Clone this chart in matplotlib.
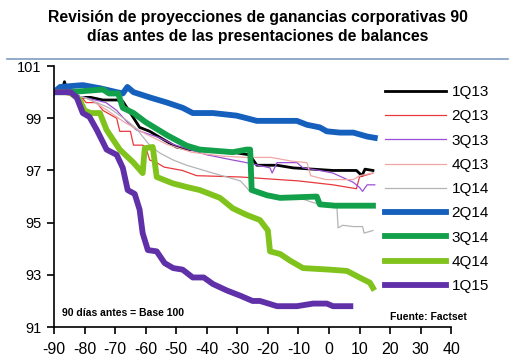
import matplotlib
matplotlib.use('Agg')
import matplotlib.pyplot as plt
from matplotlib.lines import Line2D

plt.rcParams['font.family'] = ['Liberation Sans', 'DejaVu Sans']
plt.rcParams['axes.unicode_minus'] = False

# series: days relative to presentation, index (90 days before = 100)
x_1q13 = [-90, -87.5, -86.6, -85.5, -84, -81.6, -78, -74, -69.5, -67.5, -65, -62, -58.7, -54.4, -50, -45.6,
          -38, -31.5, -29, -26, -23.6, -17, -11.8, 1.3, 5, 9, 10.8, 11.8, 14.4]
y_1q13 = [100, 100, 100.4, 100, 100, 99.8, 99.8, 99.7, 99.7, 99.65, 99.2, 98.65, 98.5, 98.2, 97.9, 97.8,
          97.75, 97.7, 97.65, 97.6, 97.2, 97.2, 97.1, 97.0, 97.0, 97.0, 96.8, 97.05, 97.0]

x_2q13 = [-90, -81, -79.5, -76, -74, -69.5, -68.5, -65, -64, -61, -60, -58.7, -56.4, -54, -48, -43.3,
          -29, -10, 1.3, 9, 10, 14.4]
y_2q13 = [100, 99.8, 99.6, 99.6, 99.3, 99.0, 98.5, 98.5, 97.97, 97.97, 97.9, 97.4, 97.3, 97.13, 97.0, 96.8,
          96.75, 96.6, 96.45, 96.3, 96.75, 96.9]

x_3q13 = [-90, -80, -73, -69.5, -66, -63, -55.4, -51, -45.6, -40, -31.5, -27, -19.3, -18.6, -17, -10.5,
          -8.5, -3, 1.3, 7.9, 10, 11, 12.5, 15]
y_3q13 = [100, 99.8, 99.6, 99.3, 98.85, 98.55, 98.25, 98.0, 97.8, 97.6, 97.4, 97.3, 97.1, 96.9, 97.3, 97.3,
          97.1, 97.0, 96.9, 96.55, 96.35, 96.2, 96.45, 96.45]

x_4q13 = [-90, -82, -78, -72.5, -67, -60, -53, -45, -35, -27, -19, -11.8, -7.2, -6, -1, 8, 10, 14.4]
y_4q13 = [100, 99.85, 99.7, 99.3, 98.85, 98.4, 98.0, 97.7, 97.55, 97.5, 97.5, 97.35, 97.3, 96.8, 96.65,
          96.65, 96.8, 96.9]

x_1q14 = [-90, -80, -72, -66, -63, -61, -58.7, -55.4, -51, -46.6, -38, -29, -27, -26, -20.3, -10.5, -6,
          0.3, 2.6, 3, 4.5, 8, 11, 11.5, 14.4]
y_1q14 = [100, 99.8, 99.4, 98.9, 98.6, 98.3, 97.97, 97.67, 97.4, 97.2, 96.9, 96.6, 96.35, 96.2, 96.0,
          95.98, 95.8, 95.6, 95.6, 94.8, 94.9, 94.85, 94.85, 94.6, 94.7]

x_2q14 = [-90, -88, -80.6, -75, -69.5, -67.5, -66, -64, -58.7, -53, -47.9, -44.6, -38, -30.2, -23.6,
          -10.5, -7.2, -3, -0.7, 3.6, 8, 12.5, 15]
y_2q14 = [100, 100.2, 100.27, 100.15, 100.0, 99.95, 100.2, 100.0, 99.8, 99.6, 99.4, 99.2, 99.2, 99.1, 98.9,
          98.9, 98.75, 98.65, 98.5, 98.45, 98.45, 98.3, 98.25]

x_3q14 = [-90, -85, -74, -72, -69, -67.5, -64, -60, -53, -46.6, -42.3, -31.5, -27, -25.8, -25.3, -20.3,
          -16, -4, -3, 2, 14.4]
y_3q14 = [100, 100, 100.1, 99.95, 99.95, 99.4, 99.2, 98.85, 98.35, 97.95, 97.8, 97.7, 97.8, 97.8, 96.25,
          96.05, 95.95, 96.0, 95.7, 95.65, 95.65]

x_4q14 = [-90, -85, -81.6, -80, -78, -75, -72.8, -68.5, -64, -61, -60.3, -57.7, -56.4, -51, -46, -42.3,
          -35.7, -31.5, -27, -22.6, -20, -19.3, -16, -12.8, -8.5, 0.3, 5.9, 10, 13.4, 14.4]
y_4q14 = [100, 100, 99.7, 99.3, 99.2, 99.2, 98.55, 97.8, 97.3, 96.9, 97.85, 97.9, 96.75, 96.5, 96.35, 96.25,
          95.95, 95.55, 95.3, 95.1, 94.7, 93.9, 93.8, 93.55, 93.26, 93.2, 93.15, 92.9, 92.7, 92.5]

x_1q15 = [-90, -84.6, -82.6, -80.6, -78.4, -76, -72.8, -69.5, -67.5, -65.9, -63.6, -62, -61, -59.3, -56.4,
          -53.8, -51, -47.9, -44.6, -41, -38, -33.4, -29, -25, -22.6, -17, -10.5, -5.2, -0.7, 1.3, 7]
y_1q15 = [100, 100, 99.8, 99.2, 99.05, 98.55, 97.8, 97.6, 97.1, 96.25, 96.1, 95.5, 94.6, 93.95, 93.9,
          93.45, 93.26, 93.2, 92.9, 92.9, 92.65, 92.4, 92.2, 92.0, 92.0, 91.8, 91.8, 91.9, 91.9, 91.8, 91.8]

labels = ['1Q13', '2Q13', '3Q13', '4Q13', '1Q14', '2Q14', '3Q14', '4Q14', '1Q15']
xs = [x_1q13, x_2q13, x_3q13, x_4q13, x_1q14, x_2q14, x_3q14, x_4q14, x_1q15]
ys = [y_1q13, y_2q13, y_3q13, y_4q13, y_1q14, y_2q14, y_3q14, y_4q14, y_1q15]
colors = ['#000000', '#e8383d', '#9b4fd6', '#f2a7a7', '#b4b4b4', '#1560bd', '#12a04a', '#80c31c', '#6030a8']
widths = [2.0, 0.9, 0.9, 0.9, 0.9, 4.2, 4.2, 4.2, 4.2]

fig = plt.figure(figsize=(5.15, 3.61), dpi=100)
ax = fig.add_axes([0.105, 0.094, 0.771, 0.723])

for i in range(len(labels)):
    ax.plot(xs[i], ys[i], color=colors[i], lw=widths[i], label=labels[i], solid_joinstyle='round')

ax.set_xlim(-90, 40)
ax.set_ylim(91, 101)
ax.set_xticks(range(-90, 41, 10))
ax.set_yticks(range(91, 102, 2))
ax.tick_params(axis='x', labelsize=11.5, length=5, width=1.2, direction='out', pad=6)
ax.tick_params(axis='y', labelsize=10.5, length=5, width=1.2, direction='out', pad=4)
for s in ['top', 'right']:
    ax.spines[s].set_visible(False)
for s in ['left', 'bottom']:
    ax.spines[s].set_linewidth(1.2)

ax.text(-87.3, 91.55, '90 días antes = Base 100', fontsize=7.5, fontweight='bold', va='center')

fig.legend(loc='upper left', bbox_to_anchor=(0.748, 0.764), frameon=False, fontsize=11,
           handlelength=4.0, handletextpad=0.35, labelspacing=0.67, borderpad=0, borderaxespad=0)

fig.text(0.757, 0.122, 'Fuente: Factset', fontsize=7.5, fontweight='bold', va='center')

fig.text(0.5, 0.925, 'Revisión de proyecciones de ganancias corporativas 90\n'
         'días antes de las presentaciones de balances',
         ha='center', va='center', fontsize=11.3, fontweight='bold', linespacing=1.4)
fig.add_artist(Line2D([0.013, 0.987], [0.836, 0.836], color='#7f9cc0', lw=1.2))

fig.savefig('out.png', dpi=100)
